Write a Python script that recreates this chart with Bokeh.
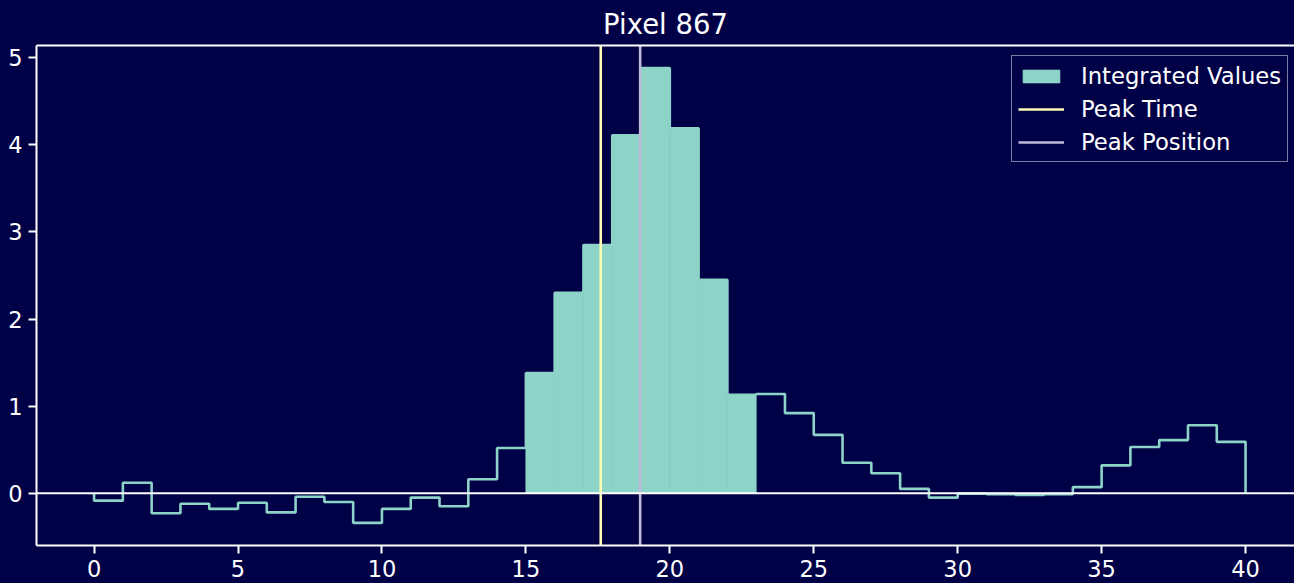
from bokeh.plotting import figure
from bokeh.models import Range1d, LinearAxis, FixedTicker, Span, ColumnDataSource, Legend, LegendItem
from bokeh.embed import file_html
from bokeh.resources import INLINE

# ---- data ----
values = [-0.085, 0.12, -0.23, -0.12, -0.18, -0.11, -0.22, -0.04, -0.10, -0.34,
          -0.18, -0.05, -0.15, 0.16, 0.52, 1.38, 2.30, 2.85, 4.11, 4.88,
          4.19, 2.45, 1.13, 1.14, 0.92, 0.67, 0.35, 0.23, 0.05, -0.05,
          -0.005, -0.01, -0.02, -0.01, 0.07, 0.32, 0.53, 0.61, 0.78, 0.59]
edges = list(range(0, 41))
integ_start, integ_stop = 15, 23
peak_time = 17.6
peak_position = 18.97
x_ticks = [0, 5, 10, 15, 20, 25, 30, 35, 40]
y_ticks = [0, 1, 2, 3, 4, 5]
title_text = "Pixel 867"

BG = "#000047"
FG = "white"
C_HIST = "#8dd3c7"
C_TIME = "#ffffb3"
C_POS = "#bebada"
FONT = "DejaVu Sans"

x0, x1 = -2.0, 41.7
y0, y1 = -0.60, 5.14

p = figure(width=1294, height=583, output_backend="svg", toolbar_location=None,
           x_range=Range1d(x0, x1), y_range=Range1d(y0, y1),
           background_fill_color=BG, border_fill_color=BG,
           min_border_left=36, min_border_right=0, min_border_top=45, min_border_bottom=38,
           x_axis_type=None, y_axis_type=None)
p.outline_line_color = None
p.grid.visible = False

p.title.text = title_text
p.title.align = "center"
p.title.offset = 5
p.title.standoff = 11
p.title.text_color = FG
p.title.text_font = FONT
p.title.text_font_size = "27.5px"
p.title.text_font_style = "normal"

# step outline
sx, sy = [edges[0]], [0.0]
for i, v in enumerate(values):
    sx += [edges[i], edges[i + 1]]
    sy += [v, v]
sx.append(edges[-1]); sy.append(0.0)
p.line(sx, sy, line_color=C_HIST, line_width=2.6)

# integrated region
src = ColumnDataSource(dict(left=edges[integ_start:integ_stop],
                            right=edges[integ_start + 1:integ_stop + 1],
                            top=values[integ_start:integ_stop],
                            bottom=[0] * (integ_stop - integ_start)))
r_fill = p.quad(left="left", right="right", top="top", bottom="bottom", source=src,
                fill_color=C_HIST, line_color=C_HIST, line_width=0.8)

p.add_layout(Span(location=0, dimension="width", line_color=FG, line_width=2))

r_time = p.segment(x0=[peak_time], y0=[y0], x1=[peak_time], y1=[y1], line_color=C_TIME, line_width=2.6)
r_pos = p.segment(x0=[peak_position], y0=[y0], x1=[peak_position], y1=[y1], line_color=C_POS, line_width=2.6)

def style_axis(ax, ticks, labels=True):
    ax.ticker = FixedTicker(ticks=ticks)
    ax.axis_line_color = FG
    ax.axis_line_width = 2
    ax.major_tick_line_color = FG if labels else None
    ax.major_tick_line_width = 2
    ax.major_tick_out = 8 if labels else 0
    ax.major_tick_in = 0
    ax.minor_tick_line_color = None
    ax.minor_tick_out = 0
    ax.minor_tick_in = 0
    ax.major_label_text_color = FG
    ax.major_label_text_font = FONT
    ax.major_label_text_font_size = "22.5px" if labels else "0px"

ax_b = LinearAxis()
style_axis(ax_b, x_ticks)
ax_b.major_label_standoff = 6
p.add_layout(ax_b, "below")

ax_l = LinearAxis()
style_axis(ax_l, y_ticks)
ax_l.major_label_standoff = 6
p.add_layout(ax_l, "left")

ax_t = LinearAxis()
style_axis(ax_t, [], labels=False)
ax_t.major_label_standoff = 0
p.add_layout(ax_t, "above")

legend = Legend(items=[LegendItem(label="Integrated Values", renderers=[r_fill]),
                       LegendItem(label="Peak Time", renderers=[r_time]),
                       LegendItem(label="Peak Position", renderers=[r_pos])],
                location=(975, 383))
legend.margin = 0
legend.padding = 6
legend.spacing = 6
legend.glyph_width = 46
legend.glyph_height = 16
legend.label_height = 27
legend.label_standoff = 17
legend.label_text_font = FONT
legend.label_text_font_size = "22.7px"
legend.label_text_color = FG
legend.background_fill_color = BG
legend.background_fill_alpha = 0.8
legend.border_line_color = "#9a9ab0"
legend.border_line_width = 1.5
legend.border_line_alpha = 0.8
p.add_layout(legend, "center")

html = file_html(p, INLINE)
html = html.replace("<head>", "<head><style>html,body{margin:0;padding:0;background:#000047;}</style>", 1)
open("out.html", "w").write(html)
